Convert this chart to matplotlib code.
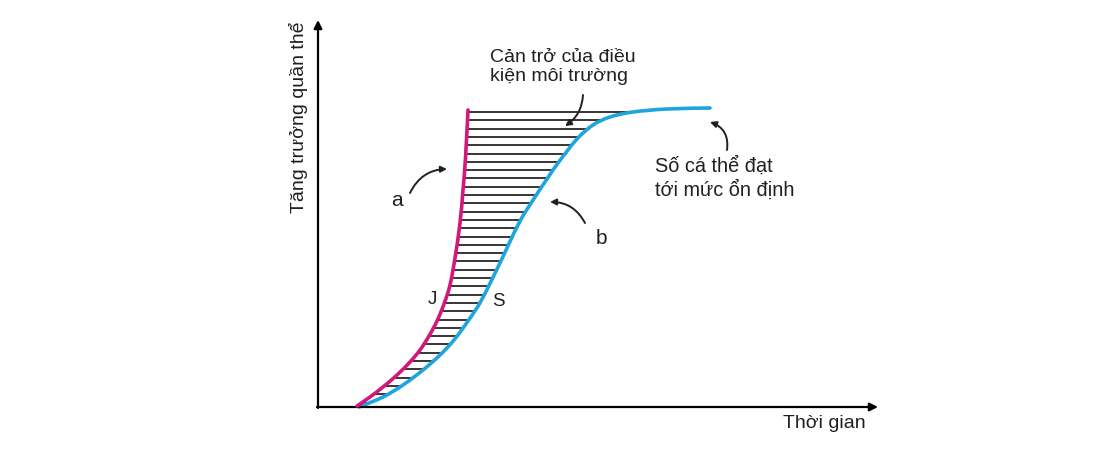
import numpy as np
import matplotlib
matplotlib.use("Agg")
import matplotlib.pyplot as plt
from matplotlib.path import Path
from matplotlib.patches import PathPatch

plt.rcParams['font.family'] = ['Liberation Sans', 'DejaVu Sans']

# Data (time, population) in chart units, origin at axis corner
j_time = [39, 52, 65, 79, 92, 102, 111, 119, 126, 132, 137, 142, 145, 147.5, 150]
j_pop = [1, 10, 20, 32, 45, 57, 71, 86, 103, 122, 149, 184, 217, 249, 297]

s_time = [41, 65, 85, 105, 122, 136, 150, 163, 181, 201, 217, 229, 240, 259,
          275, 292, 315, 349, 392]
s_pop = [0, 10, 22, 37, 52, 67, 86, 106, 142, 184, 210, 228, 244, 268,
         282, 290, 295, 298, 299]

x_label = "Thời gian"
y_label = "Tăng trưởng quần thể"


def smooth_path(xs, ys):
    """Catmull-Rom curve through the points as cubic Bezier segments."""
    p = np.column_stack([xs, ys]).astype(float)
    pts = [p[0]]
    codes = [Path.MOVETO]
    n = len(p)
    for i in range(n - 1):
        p0 = p[i - 1] if i > 0 else p[i]
        p1 = p[i]
        p2 = p[i + 1]
        p3 = p[i + 2] if i + 2 < n else p[i + 1]
        c1 = p1 + (p2 - p0) / 6.0
        c2 = p2 - (p3 - p1) / 6.0
        pts += [c1, c2, p2]
        codes += [Path.CURVE4] * 3
    return Path(np.array(pts), codes)


fig = plt.figure(figsize=(11.14, 4.74), dpi=100)
ax = fig.add_axes([0, 0, 1, 1])
ax.set_xlim(-318, 1114 - 318)
ax.set_ylim(407 - 474, 407)
ax.axis('off')

magenta = '#d4177a'
blue = '#1fa5dc'
ink = '#231f20'

# hatch lines between curves
jt = np.array(j_time); jp = np.array(j_pop)
st = np.array(s_time); sp = np.array(s_pop)
ys = np.arange(j_pop[-1] - 2, 4, -8.3)
for y in ys:
    xl = np.interp(y, jp, jt)
    xr = np.interp(y, sp, st)
    ax.plot([xl, xr], [y, y], color='black', lw=1.1, zorder=2)

ax.add_patch(PathPatch(smooth_path(s_time, s_pop), fill=False, edgecolor=blue,
                       lw=2.6, zorder=3, capstyle='round'))
ax.add_patch(PathPatch(smooth_path(j_time, j_pop), fill=False, edgecolor=magenta,
                       lw=2.6, zorder=4, capstyle='round'))

# axes arrows
ax.annotate('', xy=(560, 0), xytext=(-1, 0),
            arrowprops=dict(arrowstyle='-|>', color='black', lw=1.6,
                            mutation_scale=12, shrinkA=0, shrinkB=0))
ax.annotate('', xy=(0, 387), xytext=(0, -1),
            arrowprops=dict(arrowstyle='-|>', color='black', lw=1.6,
                            mutation_scale=12, shrinkA=0, shrinkB=0))

fs = 14
ax.text(548, -16, x_label, ha='right', va='center', fontsize=fs, color=ink)
ax.text(-20, 290, y_label, ha='center', va='center', rotation=90,
        fontsize=fs, color=ink)

ax.text(172, 340, "Cản trở của điều\nkiện môi trường", ha='left', va='center',
        fontsize=fs, color=ink, linespacing=1.2)
ax.text(337, 229, "Số cá thể đạt\ntới mức ổn định", ha='left', va='center',
        fontsize=fs + 0.3, color=ink, linespacing=1.2)
ax.text(79, 207, "a", ha='center', va='center', fontsize=fs + 1, color=ink)
ax.text(283, 169, "b", ha='center', va='center', fontsize=fs + 1, color=ink)
ax.text(114, 107, "J", ha='center', va='center', fontsize=fs - 0.5, color=ink)
ax.text(180, 105, "S", ha='center', va='center', fontsize=fs - 0.5, color=ink)

ap = dict(arrowstyle='-|>', color=ink, lw=1.4, mutation_scale=9,
          shrinkA=0, shrinkB=0)
ax.annotate('', xy=(129, 238), xytext=(92, 214),
            arrowprops=dict(connectionstyle='arc3,rad=-0.3', **ap))
ax.annotate('', xy=(232, 205), xytext=(267, 184),
            arrowprops=dict(connectionstyle='arc3,rad=0.3', **ap))
ax.annotate('', xy=(247, 281), xytext=(265, 312),
            arrowprops=dict(connectionstyle='arc3,rad=-0.25', **ap))
ax.annotate('', xy=(392, 285), xytext=(409, 257),
            arrowprops=dict(connectionstyle='arc3,rad=0.4', **ap))

fig.savefig('out.png', dpi=100, facecolor='white')
